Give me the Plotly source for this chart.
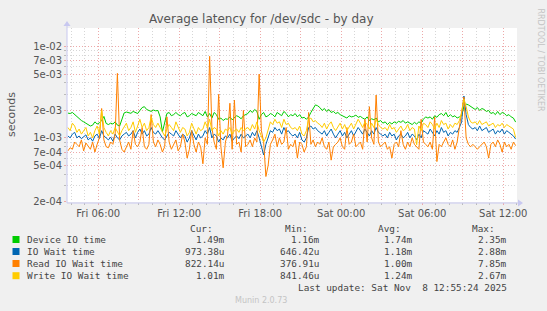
import plotly.graph_objects as go
import pandas as pd

# ---------------- data (values in milliseconds, 10-minute samples) ----------------
times = pd.date_range("2025-11-07 03:45", periods=200, freq="10min")

device_ms = [
    1.87, 1.85, 1.9, 1.8, 1.72, 1.6, 1.55, 1.5, 1.45, 1.4, 1.35, 1.38, 1.5, 1.42, 1.46, 1.55, 1.72, 1.44, 1.4, 1.45,
    1.42, 1.5, 1.38, 1.35, 1.6, 1.88, 1.92, 1.9, 1.86, 1.95, 1.9, 1.85, 2.0, 2.15, 2.2, 2.05, 2.0, 1.95, 2.02, 1.98,
    2.0, 1.7, 1.16, 1.5, 1.85, 1.9, 1.75, 1.8, 1.9, 1.8, 1.75, 1.85, 1.9, 1.7, 1.75, 1.85, 1.8, 1.75, 1.9, 1.8,
    1.75, 1.95, 1.7, 1.85, 1.65, 1.9, 1.8, 1.6, 1.65, 1.55, 1.62, 1.6, 1.7, 1.58, 1.65, 1.75, 1.7, 1.62, 1.75, 1.8,
    1.85, 2.0, 1.9, 2.05, 1.95, 1.6, 1.8, 1.9, 1.7, 1.75, 1.85, 1.8, 1.7, 1.9, 1.8, 1.75, 1.95, 1.85, 1.7, 1.8,
    1.75, 1.85, 1.7, 1.8, 1.65, 1.68, 1.6, 1.7, 1.9, 2.1, 2.3, 2.25, 2.15, 2.0, 2.1, 1.95, 2.05, 1.9, 1.95, 1.85,
    1.9, 1.8, 1.75, 1.7, 1.65, 1.75, 1.7, 1.72, 1.78, 1.68, 1.72, 1.65, 1.6, 1.7, 1.55, 1.62, 1.58, 1.65, 1.5, 1.55,
    1.45, 1.5, 1.4, 1.48, 1.42, 1.5, 1.45, 1.52, 1.48, 1.55, 1.45, 1.5, 1.45, 1.4, 1.48, 1.42, 1.5, 1.45, 1.6, 1.7,
    1.65, 1.7, 1.6, 1.75, 1.68, 1.8, 1.85, 1.75, 1.9, 1.7, 1.8, 1.7, 1.75, 1.65, 1.7, 1.75, 2.2, 2.35, 2.3, 2.2,
    2.1, 2.05, 2.15, 2.0, 2.1, 2.05, 1.95, 2.0, 1.85, 1.9, 1.8, 1.95, 1.8, 1.9, 1.85, 1.75, 1.8, 1.7, 1.65, 1.49,
]

iowait_ms = [
    1.05, 1.0, 1.1, 1.15, 1.0, 1.05, 0.98, 1.02, 1.08, 0.95, 1.0, 0.92, 1.05, 1.1, 0.98, 1.2, 1.05, 1.0, 0.95, 1.02,
    0.92, 1.1, 1.0, 0.95, 1.05, 1.1, 1.15, 1.05, 1.1, 1.2, 1.0, 1.15, 1.25, 1.1, 1.2, 1.05, 1.1, 1.3, 1.15, 1.1,
    1.2, 1.1, 1.0, 0.95, 1.05, 1.15, 1.1, 1.05, 1.2, 1.1, 1.0, 1.1, 1.05, 0.9, 1.0, 1.2, 1.05, 0.95, 1.1, 1.0,
    1.05, 1.2, 1.1, 1.3, 1.0, 1.1, 1.05, 0.9, 1.0, 0.95, 1.05, 1.0, 1.1, 0.92, 1.0, 1.05, 0.98, 1.1, 1.0, 1.05,
    1.1, 1.0, 1.15, 1.05, 1.2, 1.0, 0.8, 0.65, 0.85, 1.0, 1.2, 1.15, 1.3, 1.2, 1.25, 1.1, 1.3, 1.15, 1.2, 1.1,
    1.05, 1.1, 1.0, 1.15, 0.95, 0.9, 1.0, 1.3, 1.35, 1.25, 1.3, 1.2, 1.15, 1.1, 1.2, 1.05, 1.15, 1.25, 1.1, 1.0,
    1.1, 1.2, 1.05, 1.15, 1.0, 1.1, 1.2, 1.05, 1.15, 1.3, 1.2, 1.1, 1.25, 1.15, 1.05, 1.2, 1.1, 1.3, 1.15, 1.1,
    1.05, 1.1, 1.0, 1.15, 1.05, 1.1, 0.95, 1.05, 1.1, 1.0, 1.05, 1.15, 1.0, 1.1, 1.05, 0.95, 1.1, 1.0, 1.2, 1.15,
    1.1, 1.25, 1.15, 1.05, 1.2, 1.1, 1.3, 1.15, 1.2, 1.05, 1.15, 1.1, 1.2, 1.15, 1.3, 1.5, 2.88, 1.8, 1.4, 1.3,
    1.25, 1.3, 1.2, 1.35, 1.2, 1.25, 1.3, 1.15, 1.2, 1.25, 1.1, 1.2, 1.15, 1.25, 1.1, 1.2, 1.15, 1.1, 1.05, 0.97,
]

read_ms = [
    0.72, 0.78, 0.75, 0.9, 0.85, 0.8, 0.95, 0.72, 0.88, 0.8, 0.75, 0.9, 0.7, 0.85, 1.0, 2.1, 0.95, 0.8, 0.78, 0.9,
    0.85, 1.1, 5.1, 0.95, 0.75, 0.7, 0.8, 0.9, 0.75, 1.2, 0.85, 0.8, 0.9, 1.3, 0.8, 0.75, 0.85, 1.8, 0.9, 0.8,
    0.95, 0.85, 0.7, 0.8, 1.7, 0.9, 0.75, 0.85, 0.95, 0.72, 0.8, 1.1, 0.9, 0.6, 0.75, 1.2, 0.85, 0.7, 0.9, 0.8,
    0.52, 1.0, 0.85, 7.85, 1.3, 0.9, 0.75, 3.0, 0.8, 0.47, 0.9, 1.1, 2.4, 0.75, 2.6, 0.85, 0.9, 0.7, 2.0, 0.8,
    0.85, 0.95, 0.8, 1.0, 0.9, 5.0, 1.2, 0.9, 0.377, 0.5, 0.85, 0.95, 1.1, 0.8, 1.0, 0.85, 0.9, 1.3, 0.75, 0.85,
    0.8, 0.95, 0.6, 0.9, 0.85, 0.7, 0.8, 1.9, 0.85, 0.95, 0.8, 0.9, 0.85, 1.0, 0.8, 0.75, 0.9, 0.57, 0.8, 0.85,
    0.9, 1.0, 0.8, 0.75, 1.3, 0.85, 0.9, 1.1, 0.8, 0.85, 0.9, 0.75, 1.6, 0.9, 2.2, 1.0, 0.85, 2.95, 0.9, 0.8,
    0.85, 0.9, 0.75, 0.8, 0.6, 0.85, 0.9, 0.8, 1.2, 0.85, 0.75, 0.9, 0.8, 1.0, 0.85, 0.8, 0.75, 1.6, 0.9, 0.85,
    0.8, 0.9, 0.75, 1.7, 0.55, 0.85, 0.8, 0.9, 1.0, 0.85, 0.8, 0.95, 0.75, 0.9, 1.3, 1.8, 2.8, 1.0, 0.85, 0.8,
    0.85, 0.8, 0.75, 0.8, 0.85, 0.9, 0.8, 0.6, 0.85, 0.9, 0.8, 0.95, 0.85, 0.7, 0.9, 0.8, 0.85, 0.75, 0.9, 0.822,
]

write_ms = [
    1.3, 1.2, 1.45, 1.35, 1.15, 1.25, 1.1, 1.2, 1.3, 1.05, 1.15, 1.0, 1.2, 1.35, 1.1, 2.0, 1.3, 1.15, 1.05, 1.2,
    1.1, 1.3, 1.15, 1.05, 1.2, 1.3, 1.45, 1.2, 1.3, 1.5, 1.15, 1.35, 1.6, 1.3, 1.45, 1.2, 1.3, 1.7, 1.4, 1.3,
    1.45, 1.3, 1.15, 1.05, 1.25, 1.4, 1.3, 1.2, 1.5, 1.3, 1.15, 1.3, 1.25, 1.05, 1.15, 1.45, 1.25, 1.1, 1.3, 1.2,
    1.25, 1.5, 1.3, 1.6, 1.2, 1.3, 1.25, 1.05, 1.2, 1.1, 1.25, 1.2, 1.3, 1.1, 1.2, 1.25, 1.15, 1.3, 1.2, 1.25,
    1.3, 1.2, 1.4, 1.25, 1.5, 1.2, 1.05, 0.9, 1.0, 1.2, 1.5, 1.4, 1.6, 1.45, 1.5, 1.3, 1.6, 1.4, 1.45, 1.3,
    1.25, 1.3, 1.2, 1.35, 1.1, 1.05, 1.2, 1.6, 1.65, 1.5, 1.55, 1.45, 1.4, 1.3, 1.45, 1.25, 1.4, 1.5, 1.3, 1.2,
    1.3, 1.45, 1.25, 1.4, 1.2, 1.3, 1.45, 1.25, 1.4, 1.6, 1.45, 1.3, 1.5, 1.4, 1.25, 1.45, 1.3, 1.6, 1.4, 1.3,
    1.25, 1.3, 1.2, 1.4, 1.25, 1.3, 1.15, 1.25, 1.35, 1.2, 1.25, 1.4, 1.2, 1.3, 1.25, 0.841, 1.35, 1.2, 1.45, 1.4,
    1.3, 1.5, 1.4, 1.25, 1.45, 1.3, 1.55, 1.4, 1.45, 1.25, 1.4, 1.3, 1.45, 1.4, 1.55, 1.9, 2.67, 2.2, 1.7, 1.5,
    1.45, 1.5, 1.4, 1.55, 1.4, 1.45, 1.5, 1.35, 1.4, 1.45, 1.3, 1.4, 1.35, 1.45, 1.3, 1.4, 1.35, 1.3, 1.25, 1.01,
]

series_names = ["Device IO time", "IO Wait time", "Read IO Wait time", "Write IO Wait time"]
series_colors = ["#00CC00", "#0066B3", "#FF8000", "#FFCC00"]
series_data = [device_ms, iowait_ms, read_ms, write_ms]
cur_txt = ["1.49m", "973.38u", "822.14u", "1.01m"]
min_txt = ["1.16m", "646.42u", "376.91u", "841.46u"]
avg_txt = ["1.74m", "1.18m", "1.00m", "1.24m"]
max_txt = ["2.35m", "2.88m", "7.85m", "2.67m"]

y_tickvals = [1e-2, 7e-3, 5e-3, 2e-3, 1e-3, 7e-4, 5e-4, 2e-4]
y_ticktext = ["1e-02", "7e-03", "5e-03", "2e-03", "1e-03", "7e-04", "5e-04", "2e-04"]
y_minorvals = [9e-3, 8e-3, 6e-3, 4e-3, 3e-3, 9e-4, 8e-4, 6e-4, 4e-4, 3e-4]

x_tickvals = pd.date_range("2025-11-07 06:00", "2025-11-08 12:00", freq="3h")
x_ticktext = [t.strftime("%a %H:%M") if t.hour % 6 == 0 else "" for t in x_tickvals]
x_minorvals = pd.date_range("2025-11-07 04:00", "2025-11-08 13:00", freq="1h")

# ---------------- layout geometry ----------------
W, H = 547, 311
PL, PR, PT, PB = 67, 517, 28, 202


def px(x):
    return (x - PL) / (PR - PL)


def py(y):
    return (PB - y) / (PB - PT)


fig = go.Figure()
for name, vals, color in zip(series_names, series_data, series_colors):
    fig.add_trace(go.Scatter(
        x=times, y=[v * 1e-3 for v in vals], mode="lines", name=name,
        line=dict(color=color, width=1), hoverinfo="skip", showlegend=False))

major_grid = "#EDA9A9"
minor_grid = "#D6D6D6"
tickfont = dict(family="DejaVu Sans", size=10, color="#555555")

fig.update_layout(
    width=W, height=H,
    margin=dict(l=PL, r=W - PR, t=PT, b=H - PB, pad=0),
    paper_bgcolor="#F0F0F0", plot_bgcolor="#FFFFFF",
    xaxis=dict(
        type="date", range=["2025-11-07 03:41", "2025-11-08 13:01"],
        tickmode="array", tickvals=x_tickvals, ticktext=x_ticktext,
        showgrid=True, gridcolor=major_grid, griddash="1px,2px", gridwidth=1,
        ticks="outside", ticklen=2, tickcolor=major_grid, tickfont=tickfont,
        showline=False, zeroline=False,
        minor=dict(tickmode="array", tickvals=x_minorvals, showgrid=True,
                   gridcolor=minor_grid, griddash="1px,2px", ticks="outside",
                   ticklen=2, tickcolor="#bbbbbb"),
    ),
    yaxis=dict(
        type="log", range=[-3.703, -1.795],
        tickmode="array", tickvals=y_tickvals, ticktext=y_ticktext,
        showgrid=True, gridcolor=major_grid, griddash="1px,2px", gridwidth=1,
        ticks="outside", ticklen=2, tickcolor=major_grid, tickfont=tickfont,
        showline=False, zeroline=False,
        minor=dict(tickmode="array", tickvals=y_minorvals, showgrid=True,
                   gridcolor=minor_grid, griddash="1px,2px", ticks="outside",
                   ticklen=2, tickcolor="#bbbbbb"),
    ),
)

shapes = []
axis_col = "#C8C8F0"
# axis lines
shapes.append(dict(type="line", xref="paper", yref="paper", x0=px(PL), x1=px(PR + 4),
                   y0=py(PB + 1), y1=py(PB + 1), line=dict(color=axis_col, width=1)))
shapes.append(dict(type="line", xref="paper", yref="paper", x0=px(PL), x1=px(PL),
                   y0=py(PB + 1), y1=py(PT - 4), line=dict(color=axis_col, width=1)))
# arrows
shapes.append(dict(type="path", xref="paper", yref="paper",
                   path=f"M {px(PR+1)} {py(PB-2.5)} L {px(PR+6)} {py(PB+1)} L {px(PR+1)} {py(PB+4.5)} Z",
                   fillcolor=axis_col, line=dict(color=axis_col, width=0)))
shapes.append(dict(type="path", xref="paper", yref="paper",
                   path=f"M {px(PL-3.5)} {py(PT-2)} L {px(PL)} {py(PT-7)} L {px(PL+3.5)} {py(PT-2)} Z",
                   fillcolor=axis_col, line=dict(color=axis_col, width=0)))

annotations = []
annotations.append(dict(text="Average latency for /dev/sdc - by day", xref="paper", yref="paper",
                        x=px(261.5), y=py(19.5), showarrow=False, xanchor="center", yanchor="middle",
                        font=dict(family="DejaVu Sans", size=12, color="#555555")))
annotations.append(dict(text="seconds", xref="paper", yref="paper", x=px(11), y=py(115),
                        showarrow=False, textangle=-90, xanchor="center", yanchor="middle",
                        font=dict(family="DejaVu Sans", size=11, color="#555555")))
annotations.append(dict(text="RRDTOOL / TOBI OETIKER", xref="paper", yref="paper", x=px(540), y=py(6),
                        showarrow=False, textangle=90, xanchor="center", yanchor="top",
                        font=dict(family="DejaVu Sans", size=8, color="#C4C4C4")))

mono = dict(family="DejaVu Sans Mono", size=9.4, color="#444444")
col_right = [227, 322, 415, 509]
head_right = [215, 310, 403, 497]
for hdr, xr in zip(["Cur:", "Min:", "Avg:", "Max:"], head_right):
    annotations.append(dict(text=hdr, xref="paper", yref="paper", x=px(xr), y=py(228.3),
                            showarrow=False, xanchor="right", yanchor="middle", font=mono))
row_y = [239.5, 251.5, 263.5, 275.7]
for i, name in enumerate(series_names):
    yy = row_y[i]
    shapes.append(dict(type="rect", xref="paper", yref="paper", x0=px(12.5), x1=px(19.5),
                       y0=py(yy - 3.5), y1=py(yy + 3.5), fillcolor=series_colors[i], line=dict(width=0)))
    annotations.append(dict(text=name, xref="paper", yref="paper", x=px(24.5), y=py(yy),
                            showarrow=False, xanchor="left", yanchor="middle", font=mono))
    for txt, xr in zip([cur_txt[i], min_txt[i], avg_txt[i], max_txt[i]], col_right):
        annotations.append(dict(text=txt, xref="paper", yref="paper", x=px(xr), y=py(yy),
                                showarrow=False, xanchor="right", yanchor="middle", font=mono))
annotations.append(dict(text="Last update: Sat Nov  8 12:55:24 2025".replace("  ", "&nbsp; "),
                        xref="paper", yref="paper", x=px(509), y=py(287.5), showarrow=False,
                        xanchor="right", yanchor="middle", font=mono))
annotations.append(dict(text="Munin 2.0.73", xref="paper", yref="paper", x=px(260.5), y=py(300),
                        showarrow=False, xanchor="center", yanchor="middle",
                        font=dict(family="DejaVu Sans", size=8, color="#C4C4C4")))

fig.update_layout(shapes=shapes, annotations=annotations)
fig.write_html("out.html")
